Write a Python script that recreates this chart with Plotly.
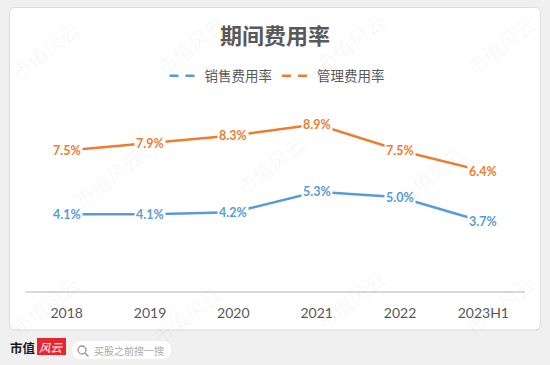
import plotly.graph_objects as go

categories = ["2018", "2019", "2020", "2021", "2022", "2023H1"]
sales_rate = [4.1, 4.1, 4.2, 5.3, 5.0, 3.7]
admin_rate = [7.5, 7.9, 8.3, 8.9, 7.5, 6.4]
series_names = ["销售费用率", "管理费用率"]
title_text = "期间费用率"
watermark_text = "市值风云"

BLUE = "#5B9BD5"
ORANGE = "#ED7D31"
GRAY_TXT = "#595959"

FW, FH = 550, 365
L, R, T, B = 25, 525, 100, 291
W, H = R - L, B - T


def px(x):
    return (x - L) / W


def py(y):
    return (B - y) / H


def rrect(x0, y0, x1, y1, r):
    pts = [
        ("M", [(x0 + r, y0)]),
        ("L", [(x1 - r, y0)]),
        ("Q", [(x1, y0), (x1, y0 + r)]),
        ("L", [(x1, y1 - r)]),
        ("Q", [(x1, y1), (x1 - r, y1)]),
        ("L", [(x0 + r, y1)]),
        ("Q", [(x0, y1), (x0, y1 - r)]),
        ("L", [(x0, y0 + r)]),
        ("Q", [(x0, y0), (x0 + r, y0)]),
    ]
    s = ""
    for cmd, ps in pts:
        s += cmd + " " + " ".join(f"{px(a):.5f},{py(b):.5f}" for a, b in ps) + " "
    return s + "Z"


fig = go.Figure()

for name, vals, col in [(series_names[0], sales_rate, BLUE), (series_names[1], admin_rate, ORANGE)]:
    fig.add_trace(go.Scatter(x=list(range(len(categories))), y=vals, mode="lines", name=name,
                             line=dict(color=col, width=2.5), showlegend=False,
                             hoverinfo="skip"))
for name, col in [(series_names[0], BLUE), (series_names[1], ORANGE)]:
    fig.add_trace(go.Scatter(x=[None], y=[None], mode="lines", name=name,
                             line=dict(color=col, width=2.5, dash="9px,7px"),
                             showlegend=True))

annotations = []
for vals, col in [(sales_rate, BLUE), (admin_rate, ORANGE)]:
    for i, v in enumerate(vals):
        annotations.append(dict(x=i, y=v, xref="x", yref="y", text=f"{v:.1f}%",
                                showarrow=False, bgcolor="white", borderpad=1,
                                xanchor="center", yanchor="middle",
                                font=dict(family="Lato, Liberation Sans, sans-serif",
                                          size=12.5, color=col, weight="bold")))

wm_pos = [(45, 50), (190, 45), (350, 42), (500, 45),
          (108, 178), (270, 165), (430, 175),
          (45, 305), (186, 315), (350, 300), (500, 305)]
for x, y in wm_pos:
    annotations.append(dict(x=px(x), y=py(y), xref="paper", yref="paper", text=watermark_text,
                            showarrow=False, textangle=-38, xanchor="center", yanchor="middle",
                            font=dict(family="Noto Sans CJK SC", size=20,
                                      color="rgba(0,0,0,0.04)")))

annotations.append(dict(x=px(23), y=py(347), xref="paper", yref="paper", text="<b>市值</b>",
                        showarrow=False, xanchor="center", yanchor="middle",
                        font=dict(family="Noto Sans CJK SC", size=12.5, color="#1a1a1a")))
annotations.append(dict(x=px(51.5), y=py(346.5), xref="paper", yref="paper", text="<i>风云</i>",
                        showarrow=False, xanchor="center", yanchor="middle",
                        font=dict(family="Noto Sans CJK SC", size=11.5, color="white")))
annotations.append(dict(x=px(92), y=py(350), xref="paper", yref="paper", text="买股之前搜一搜",
                        xanchor="left", yanchor="middle", showarrow=False,
                        font=dict(family="Noto Sans CJK SC", size=10, color="#aaaaaa")))

shapes = [
    dict(type="path", path=rrect(9.5, 7.5, 540.5, 330, 6), xref="paper", yref="paper",
         fillcolor="white", line=dict(color="#dcdcdc", width=1), layer="below"),
    dict(type="rect", x0=px(37), x1=px(66), y0=py(338), y1=py(355), xref="paper", yref="paper",
         fillcolor="#e8262d", line=dict(width=0), layer="below"),
    dict(type="path", path=rrect(72, 341, 171, 359, 9), xref="paper", yref="paper",
         fillcolor="white", line=dict(width=0), layer="below"),
    dict(type="circle", x0=px(78), x1=px(86), y0=py(346), y1=py(354), xref="paper", yref="paper",
         line=dict(color="#999999", width=1.3), layer="above"),
    dict(type="line", x0=px(85), x1=px(88.5), y0=py(353), y1=py(356.5), xref="paper", yref="paper",
         line=dict(color="#999999", width=1.5), layer="above"),
]

fig.update_layout(
    width=FW, height=FH,
    margin=dict(l=L, r=FW - R, t=T, b=FH - B, pad=0, autoexpand=False),
    paper_bgcolor="#f0f0f0",
    plot_bgcolor="rgba(0,0,0,0)",
    title=dict(text=f"<b>{title_text}</b>", x=0.5, xref="container", xanchor="center",
               y=1 - 36 / FH, yref="container", yanchor="middle",
               font=dict(family="Noto Sans CJK SC", size=22, color=GRAY_TXT)),
    legend=dict(orientation="h", x=px(277), xanchor="center", y=py(76), yanchor="middle",
                font=dict(family="Noto Sans CJK SC", size=13.5, color=GRAY_TXT),
                bgcolor="rgba(0,0,0,0)", itemwidth=30),
    xaxis=dict(tickmode="array", tickvals=list(range(len(categories))), ticktext=categories,
               range=[-0.5, len(categories) - 0.5],
               showgrid=False, zeroline=False, showline=True, linecolor="#d9d9d9", linewidth=1.5,
               ticks="", ticklabelstandoff=8,
               tickfont=dict(family="Lato, Liberation Sans, sans-serif", size=14, color=GRAY_TXT)),
    yaxis=dict(range=[0, H / 18.73], showgrid=False, zeroline=False, showline=False,
               showticklabels=False, ticks=""),
    annotations=annotations,
    shapes=shapes,
    showlegend=True,
)

fig.write_html("out.html", config={"displayModeBar": False},
               post_script="document.body.style.margin='0';document.body.style.overflow='hidden';")
